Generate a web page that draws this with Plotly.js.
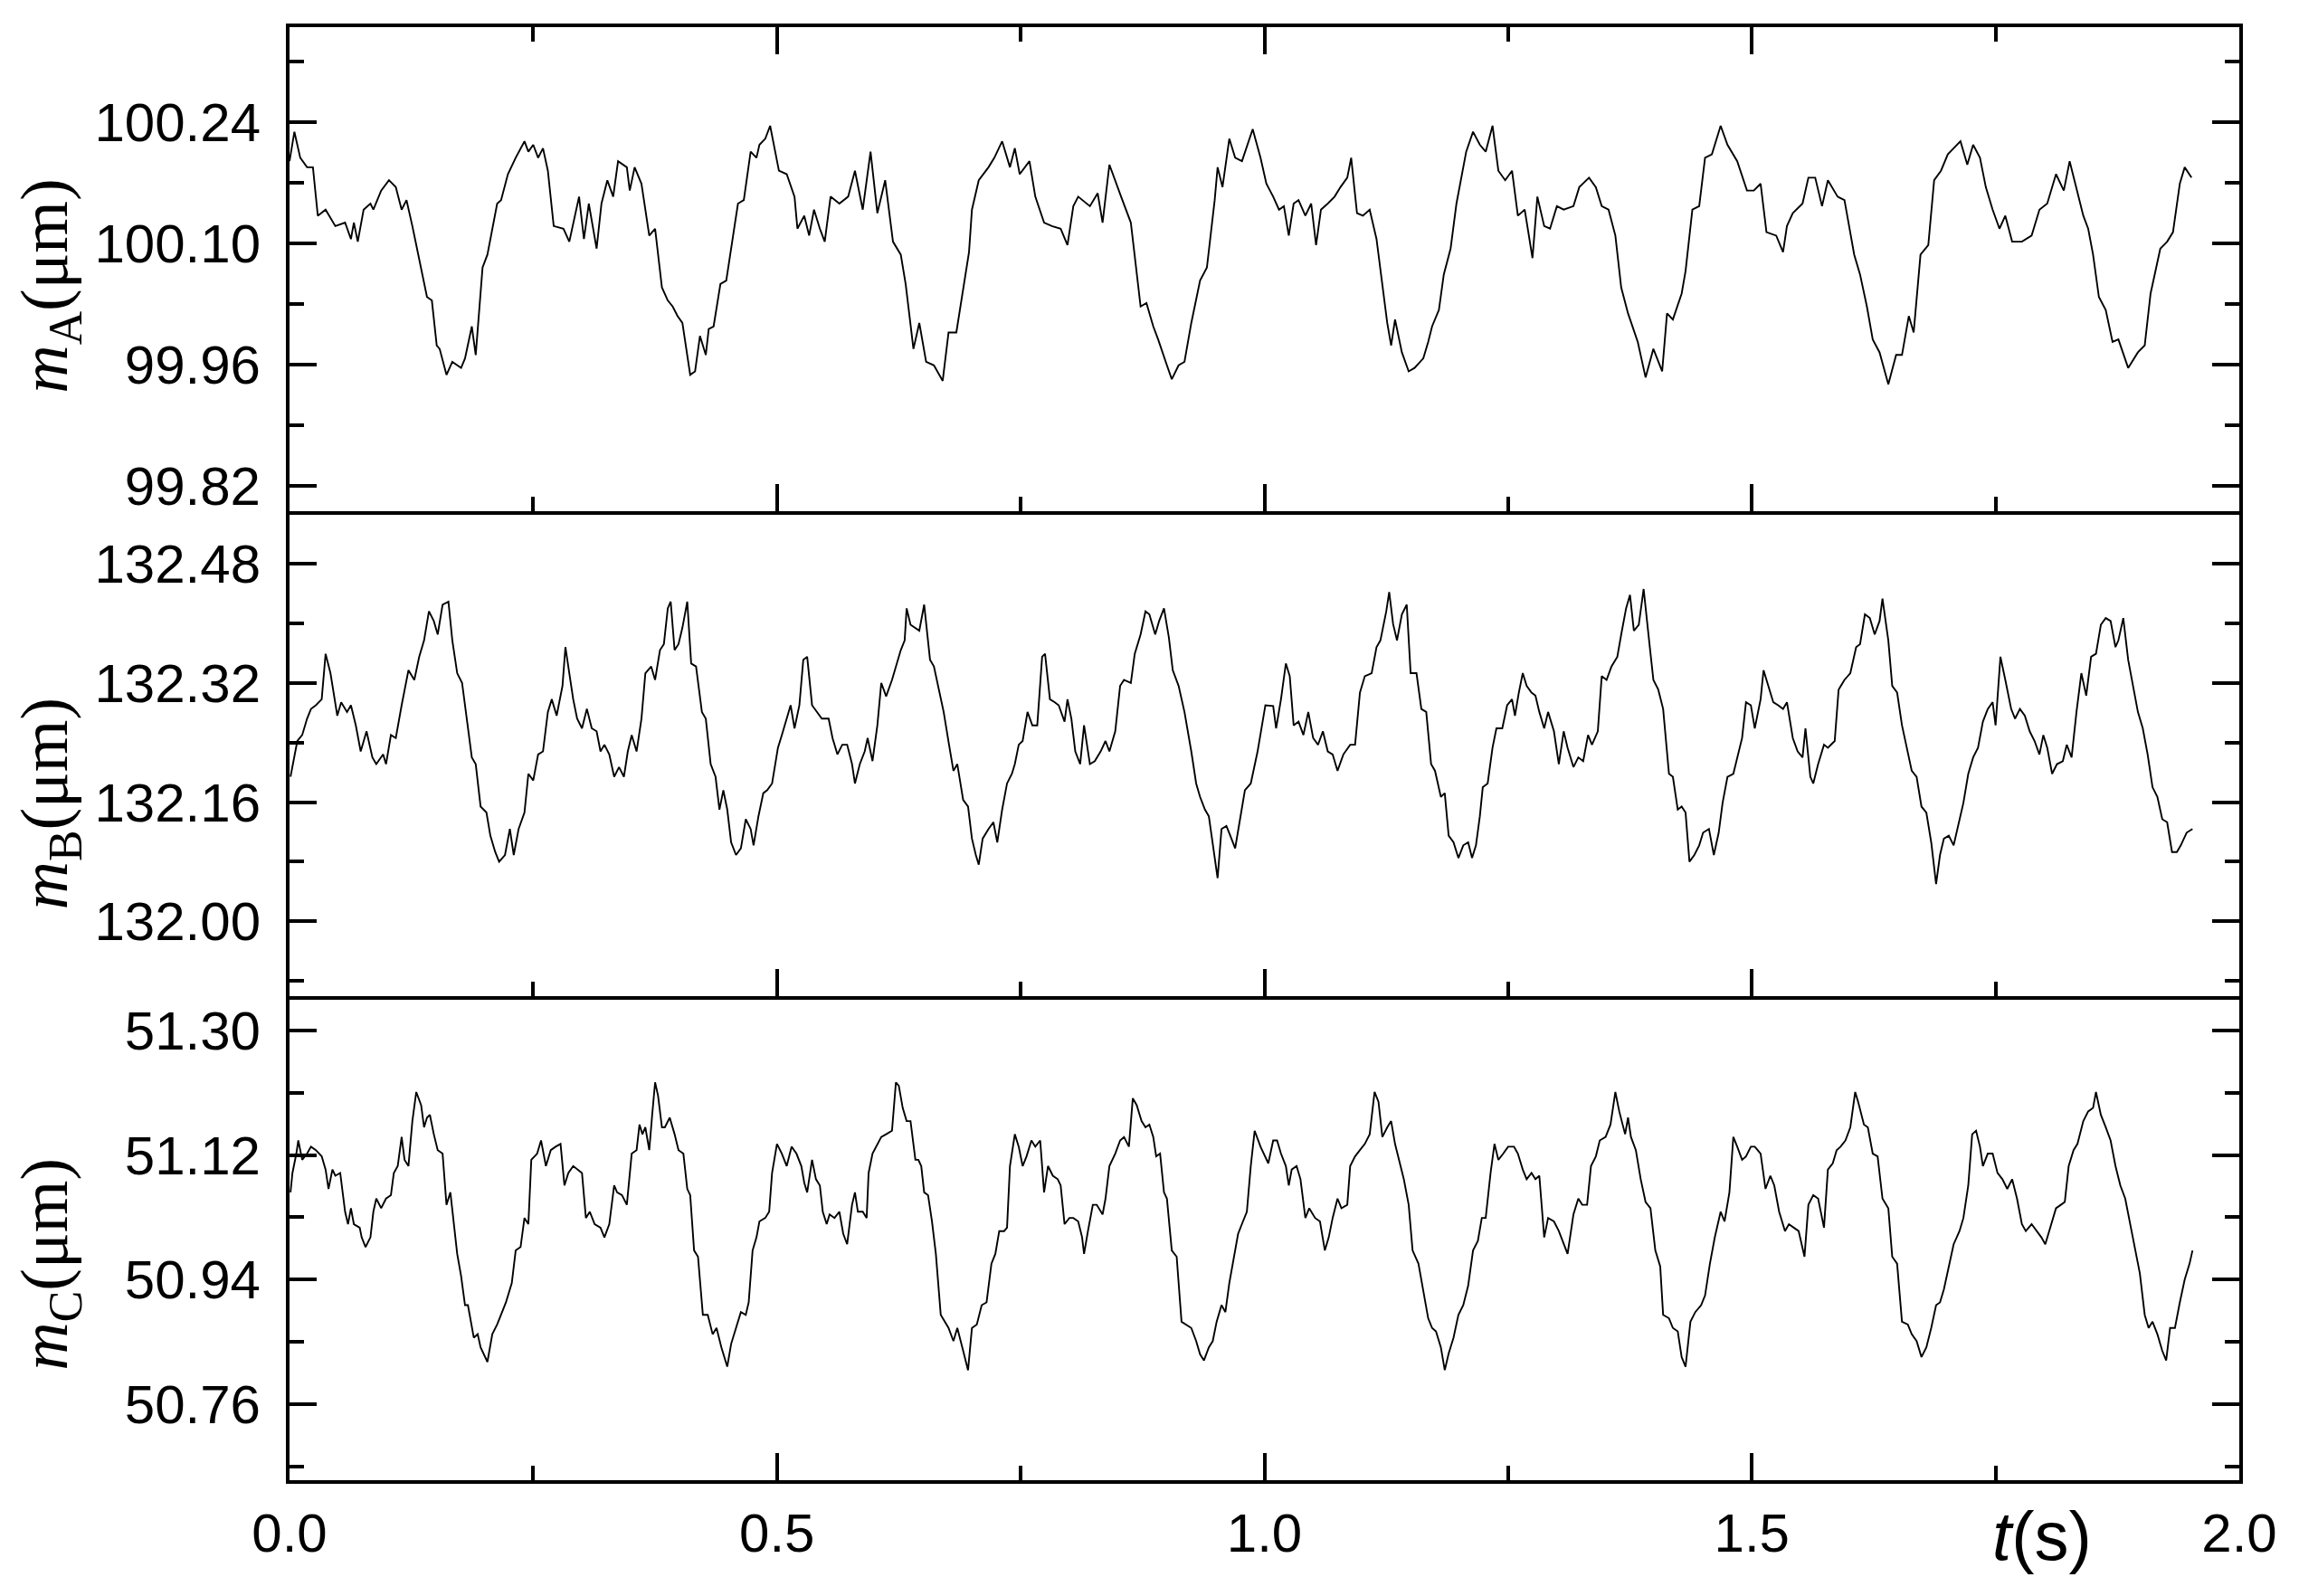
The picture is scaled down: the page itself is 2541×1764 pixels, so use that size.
<!DOCTYPE html>
<html>
<head>
<meta charset="utf-8">
<script src="https://cdn.plot.ly/plotly-3.0.1.min.js"></script>
<style>
  html, body { margin: 0; padding: 0; background: white; }
  #chart { width: 2541px; height: 1764px; }
</style>
</head>
<body>
<div id="chart"></div>
<script>
// values (time in s, m in um)
let tA = [
  0,0.005,0.011,0.018,0.024,0.029,0.037,0.047,0.057,0.063,
  0.066,0.070,0.076,0.083,0.086,0.094,0.102,0.109,0.115,0.120,
  0.126,0.135,0.141,0.146,0.151,0.154,0.161,0.167,0.176,0.180,
  0.187,0.191,0.198,0.203,0.213,0.217,0.224,0.232,0.241,0.245,
  0.250,0.255,0.260,0.265,0.271,0.281,0.287,0.297,0.302,0.307,
  0.315,0.320,0.326,0.332,0.337,0.346,0.349,0.354,0.361,0.369,
  0.375,0.382,0.388,0.393,0.398,0.403,0.411,0.416,0.421,0.427,
  0.430,0.435,0.442,0.448,0.460,0.466,0.473,0.479,0.482,0.488,
  0.493,0.502,0.510,0.518,0.521,0.528,0.533,0.538,0.544,0.549,
  0.555,0.564,0.573,0.580,0.588,0.596,0.603,0.611,0.619,0.627,
  0.632,0.640,0.646,0.653,0.661,0.670,0.676,0.684,0.692,0.697,
  0.700,0.707,0.717,0.723,0.731,0.739,0.744,0.749,0.759,0.765,
  0.774,0.782,0.791,0.798,0.804,0.809,0.821,0.829,0.834,0.841,
  0.853,0.863,0.873,0.879,0.886,0.891,0.900,0.905,0.912,0.918,
  0.925,0.934,0.941,0.949,0.952,0.957,0.964,0.970,0.977,0.988,
  0.996,1.002,1.009,1.015,1.020,1.025,1.030,1.035,1.042,1.048,
  1.053,1.058,1.065,1.072,1.078,1.085,1.089,1.095,1.101,1.108,
  1.115,1.121,1.126,1.130,1.134,1.141,1.148,1.154,1.163,1.168,
  1.172,1.179,1.184,1.191,1.197,1.207,1.214,1.221,1.227,1.234,
  1.240,1.247,1.254,1.260,1.267,1.275,1.280,1.287,1.293,1.300,
  1.307,1.317,1.323,1.333,1.340,1.346,1.353,1.360,1.366,1.373,
  1.383,1.391,1.399,1.408,1.413,1.419,1.428,1.432,1.439,1.446,
  1.452,1.459,1.468,1.475,1.485,1.495,1.502,1.509,1.515,1.525,
  1.532,1.536,1.542,1.552,1.558,1.565,1.572,1.578,1.588,1.595,
  1.605,1.611,1.618,1.624,1.631,1.640,1.648,1.654,1.661,1.666,
  1.673,1.681,1.687,1.694,1.701,1.707,1.714,1.721,1.727,1.734,
  1.740,1.747,1.754,1.760,1.767,1.777,1.787,1.795,1.803,1.812,
  1.820,1.826,1.833,1.840,1.845,1.850,1.856,1.863,1.870,1.876,
  1.886,1.896,1.903,1.909,1.919,1.926,1.932,1.939,1.944,1.951
];
let mA = [
  100.195,100.229,100.199,100.188,100.188,100.132,100.139,100.120,100.124,100.105,
  100.124,100.102,100.139,100.146,100.139,100.161,100.173,100.165,100.139,100.150,
  100.120,100.072,100.038,100.034,99.982,99.978,99.948,99.963,99.956,99.967,
  100.004,99.971,100.072,100.087,100.146,100.150,100.180,100.199,100.218,100.206,
  100.214,100.199,100.210,100.184,100.120,100.117,100.102,100.154,100.105,100.146,
  100.094,100.146,100.173,100.154,100.195,100.188,100.161,100.188,100.169,100.109,
  100.117,100.049,100.034,100.027,100.016,100.008,99.948,99.952,99.993,99.971,
  100.001,100.004,100.053,100.057,100.146,100.150,100.206,100.199,100.214,100.221,
  100.236,100.184,100.180,100.154,100.117,100.132,100.109,100.139,100.117,100.102,
  100.154,100.146,100.154,100.184,100.139,100.206,100.135,100.173,100.102,100.087,
  100.053,99.978,100.008,99.963,99.959,99.941,99.997,99.997,100.053,100.090,
  100.139,100.173,100.188,100.199,100.218,100.188,100.210,100.180,100.195,100.154,
  100.124,100.120,100.117,100.098,100.143,100.154,100.143,100.158,100.124,100.191,
  100.154,100.124,100.027,100.031,100.004,99.989,99.959,99.943,99.959,99.963,
  100.008,100.057,100.072,100.150,100.188,100.165,100.221,100.199,100.195,100.232,
  100.199,100.169,100.154,100.139,100.143,100.109,100.146,100.150,100.132,100.146,
  100.098,100.139,100.146,100.154,100.165,100.176,100.199,100.135,100.132,100.139,
  100.105,100.053,100.008,99.982,100.012,99.974,99.952,99.956,99.967,99.986,
  100.004,100.023,100.064,100.094,100.146,100.206,100.229,100.214,100.206,100.236,
  100.184,100.173,100.184,100.132,100.139,100.083,100.154,100.120,100.117,100.143,
  100.139,100.143,100.165,100.176,100.165,100.143,100.139,100.109,100.049,100.019,
  99.986,99.945,99.978,99.952,100.019,100.012,100.042,100.068,100.139,100.143,
  100.199,100.203,100.236,100.214,100.195,100.161,100.161,100.169,100.113,100.109,
  100.090,100.120,100.135,100.146,100.176,100.176,100.143,100.173,100.154,100.150,
  100.087,100.064,100.027,99.989,99.974,99.937,99.971,99.971,100.016,99.997,
  100.087,100.098,100.173,100.184,100.203,100.210,100.218,100.191,100.214,100.199,
  100.165,100.139,100.117,100.132,100.102,100.102,100.109,100.139,100.146,100.180,
  100.161,100.195,100.165,100.132,100.117,100.087,100.038,100.023,99.986,99.989,
  99.956,99.974,99.982,100.042,100.094,100.102,100.113,100.169,100.188,100.176
];

let tB = [
  0.001,0.005,0.008,0.013,0.018,0.022,0.027,0.033,0.037,0.042,
  0.046,0.049,0.053,0.059,0.063,0.068,0.073,0.079,0.085,0.089,
  0.096,0.099,0.104,0.109,0.115,0.122,0.128,0.133,0.138,0.143,
  0.148,0.152,0.157,0.163,0.167,0.172,0.177,0.182,0.187,0.191,
  0.196,0.202,0.206,0.211,0.215,0.221,0.226,0.230,0.235,0.241,
  0.245,0.250,0.255,0.260,0.265,0.269,0.274,0.280,0.283,0.287,
  0.291,0.295,0.300,0.305,0.310,0.315,0.319,0.323,0.328,0.333,
  0.338,0.343,0.347,0.351,0.356,0.361,0.365,0.371,0.375,0.380,
  0.384,0.388,0.391,0.395,0.399,0.403,0.408,0.412,0.417,0.423,
  0.427,0.432,0.437,0.441,0.445,0.449,0.453,0.458,0.463,0.468,
  0.473,0.476,0.481,0.486,0.490,0.495,0.501,0.505,0.510,0.514,
  0.518,0.523,0.527,0.531,0.536,0.541,0.546,0.553,0.557,0.562,
  0.567,0.572,0.577,0.580,0.585,0.590,0.593,0.598,0.603,0.607,
  0.612,0.618,0.622,0.627,0.631,0.633,0.637,0.642,0.646,0.651,
  0.657,0.661,0.666,0.671,0.676,0.681,0.685,0.691,0.696,0.700,
  0.704,0.707,0.711,0.717,0.722,0.726,0.731,0.736,0.741,0.744,
  0.748,0.752,0.757,0.762,0.767,0.772,0.775,0.780,0.785,0.789,
  0.795,0.798,0.802,0.806,0.811,0.815,0.821,0.826,0.832,0.837,
  0.841,0.847,0.852,0.856,0.863,0.867,0.873,0.878,0.882,0.888,
  0.892,0.897,0.902,0.906,0.912,0.918,0.925,0.930,0.934,0.939,
  0.943,0.947,0.952,0.956,0.961,0.965,0.970,0.975,0.980,0.986,
  0.993,1.001,1.009,1.012,1.017,1.022,1.026,1.030,1.035,1.040,
  1.045,1.050,1.055,1.060,1.065,1.070,1.075,1.081,1.088,1.093,
  1.098,1.103,1.110,1.115,1.119,1.125,1.128,1.132,1.136,1.141,
  1.146,1.150,1.156,1.161,1.166,1.171,1.175,1.181,1.185,1.189,
  1.194,1.199,1.204,1.209,1.213,1.217,1.221,1.224,1.229,1.234,
  1.238,1.244,1.249,1.254,1.257,1.261,1.265,1.269,1.274,1.278,
  1.282,1.287,1.291,1.297,1.302,1.307,1.311,1.317,1.322,1.327,
  1.332,1.336,1.342,1.346,1.351,1.356,1.362,1.366,1.371,1.375,
  1.379,1.384,1.389,1.395,1.399,1.404,1.409,1.415,1.419,1.424,
  1.428,1.432,1.436,1.441,1.446,1.450,1.456,1.461,1.466,1.470,
  1.475,1.481,1.485,1.490,1.494,1.499,1.503,1.509,1.512,1.517,
  1.522,1.527,1.532,1.536,1.542,1.547,1.552,1.555,1.560,1.563,
  1.568,1.574,1.578,1.585,1.589,1.595,1.601,1.607,1.611,1.616,
  1.621,1.626,1.631,1.634,1.640,1.644,1.649,1.654,1.660,1.664,
  1.669,1.674,1.679,1.684,1.689,1.693,1.697,1.702,1.707,1.713,
  1.717,1.722,1.727,1.732,1.737,1.742,1.747,1.750,1.755,1.760,
  1.766,1.770,1.775,1.780,1.785,1.790,1.795,1.799,1.803,1.808,
  1.813,1.819,1.823,1.828,1.833,1.838,1.843,1.848,1.853,1.858,
  1.863,1.868,1.873,1.876,1.881,1.886,1.891,1.896,1.901,1.906,
  1.911,1.916,1.921,1.926,1.931,1.936,1.940,1.946,1.952
];
let mB = [
  132.194,132.220,132.242,132.250,132.272,132.285,132.290,132.298,132.359,132.333,
  132.298,132.276,132.294,132.281,132.290,132.263,132.228,132.255,132.220,132.211,
  132.224,132.211,132.250,132.246,132.290,132.337,132.324,132.355,132.377,132.416,
  132.403,132.385,132.425,132.429,132.377,132.333,132.320,132.268,132.220,132.211,
  132.154,132.146,132.115,132.093,132.080,132.089,132.124,132.089,132.124,132.146,
  132.198,132.189,132.224,132.228,132.281,132.298,132.276,132.316,132.368,132.333,
  132.298,132.272,132.259,132.285,132.259,132.255,132.228,132.237,132.224,132.194,
  132.207,132.194,132.228,132.250,132.228,132.272,132.333,132.342,132.324,132.364,
  132.372,132.420,132.429,132.364,132.372,132.394,132.429,132.346,132.342,132.281,
  132.272,132.211,132.194,132.150,132.176,132.150,132.106,132.089,132.098,132.137,
  132.124,132.102,132.141,132.172,132.176,132.185,132.233,132.250,132.272,132.290,
  132.259,132.290,132.351,132.355,132.290,132.281,132.272,132.272,132.246,132.224,
  132.237,132.237,132.211,132.185,132.211,132.228,132.246,132.215,132.263,132.320,
  132.302,132.324,132.342,132.364,132.377,132.420,132.398,132.394,132.390,132.425,
  132.351,132.342,132.311,132.281,132.241,132.202,132.211,132.163,132.154,132.111,
  132.089,132.076,132.111,132.124,132.133,132.106,132.150,132.185,132.198,132.211,
  132.237,132.242,132.281,132.263,132.263,132.355,132.359,132.298,132.294,132.290,
  132.268,132.298,132.272,132.228,132.211,132.263,132.211,132.215,132.228,132.242,
  132.228,132.255,132.316,132.324,132.320,132.359,132.385,132.416,132.412,132.385,
  132.403,132.420,132.381,132.337,132.316,132.281,132.228,132.185,132.167,132.150,
  132.141,132.106,132.058,132.124,132.128,132.115,132.098,132.137,132.176,132.185,
  132.228,132.290,132.289,132.259,132.298,132.346,132.329,132.263,132.268,132.250,
  132.281,132.246,132.237,132.255,132.228,132.224,132.202,132.224,132.237,132.237,
  132.307,132.329,132.333,132.368,132.377,132.416,132.442,132.399,132.377,132.412,
  132.425,132.333,132.333,132.285,132.281,132.211,132.202,132.167,132.172,132.115,
  132.106,132.085,132.102,132.106,132.085,132.102,132.141,132.180,132.185,132.233,
  132.259,132.259,132.290,132.298,132.276,132.307,132.333,132.316,132.307,132.303,
  132.281,132.259,132.281,132.255,132.211,132.255,132.233,132.207,132.220,132.215,
  132.250,132.237,132.255,132.329,132.324,132.342,132.355,132.385,132.420,132.438,
  132.390,132.398,132.446,132.372,132.324,132.311,132.285,132.198,132.194,132.150,
  132.154,132.146,132.080,132.089,132.102,132.119,132.124,132.089,132.119,132.159,
  132.194,132.198,132.220,132.246,132.294,132.290,132.259,132.298,132.337,132.316,
  132.294,132.290,132.285,132.294,132.246,132.228,132.220,132.259,132.194,132.185,
  132.211,132.237,132.233,132.242,132.311,132.324,132.333,132.368,132.372,132.412,
  132.407,132.385,132.403,132.433,132.377,132.316,132.307,132.263,132.228,132.202,
  132.194,132.154,132.146,132.106,132.050,132.089,132.111,132.115,132.102,132.137,
  132.159,132.198,132.220,132.233,132.268,132.285,132.294,132.263,132.355,132.324,
  132.285,132.272,132.285,132.276,132.255,132.242,132.224,132.250,132.233,132.198,
  132.211,132.215,132.237,132.220,132.281,132.333,132.303,132.355,132.359,132.398,
  132.407,132.403,132.368,132.377,132.407,132.351,132.316,132.281,132.259,132.224,
  132.180,132.167,132.137,132.133,132.093,132.093,132.102,132.119,132.124
];

let tC = [
  0.001,0.003,0.007,0.009,0.013,0.018,0.022,0.027,0.033,0.037,
  0.040,0.044,0.047,0.052,0.057,0.060,0.063,0.066,0.072,0.074,
  0.078,0.083,0.086,0.089,0.094,0.099,0.104,0.107,0.111,0.115,
  0.118,0.122,0.126,0.130,0.135,0.138,0.141,0.144,0.148,0.152,
  0.157,0.161,0.165,0.169,0.172,0.176,0.180,0.183,0.189,0.193,
  0.196,0.203,0.208,0.213,0.217,0.222,0.228,0.232,0.237,0.241,
  0.245,0.248,0.254,0.258,0.263,0.268,0.273,0.278,0.282,0.286,
  0.291,0.295,0.300,0.304,0.308,0.313,0.319,0.323,0.328,0.333,
  0.336,0.341,0.346,0.351,0.356,0.359,0.362,0.365,0.369,0.372,
  0.375,0.378,0.382,0.385,0.390,0.395,0.399,0.404,0.408,0.411,
  0.415,0.419,0.424,0.429,0.434,0.438,0.443,0.449,0.453,0.458,
  0.463,0.468,0.471,0.475,0.479,0.482,0.488,0.492,0.495,0.500,
  0.505,0.510,0.515,0.520,0.525,0.528,0.531,0.536,0.540,0.544,
  0.547,0.551,0.554,0.559,0.564,0.568,0.572,0.577,0.580,0.583,
  0.588,0.592,0.594,0.598,0.603,0.607,0.612,0.618,0.622,0.625,
  0.629,0.633,0.637,0.642,0.645,0.648,0.651,0.655,0.659,0.663,
  0.668,0.672,0.676,0.681,0.685,0.691,0.696,0.700,0.705,0.710,
  0.715,0.720,0.724,0.728,0.733,0.736,0.739,0.744,0.748,0.752,
  0.756,0.761,0.765,0.770,0.774,0.778,0.783,0.788,0.791,0.795,
  0.800,0.804,0.809,0.813,0.815,0.819,0.824,0.828,0.834,0.837,
  0.841,0.847,0.852,0.856,0.861,0.865,0.869,0.874,0.878,0.882,
  0.886,0.889,0.893,0.897,0.900,0.905,0.910,0.915,0.919,0.925,
  0.930,0.934,0.938,0.943,0.947,0.951,0.956,0.960,0.964,0.969,
  0.973,0.978,0.982,0.986,0.990,0.996,1.004,1.009,1.013,1.017,
  1.022,1.025,1.028,1.033,1.037,1.042,1.046,1.052,1.057,1.062,
  1.066,1.070,1.075,1.079,1.085,1.088,1.093,1.098,1.103,1.108,
  1.113,1.117,1.121,1.126,1.130,1.134,1.138,1.143,1.148,1.152,
  1.158,1.163,1.168,1.172,1.176,1.181,1.185,1.189,1.194,1.199,
  1.204,1.209,1.214,1.219,1.223,1.227,1.232,1.236,1.240,1.245,
  1.250,1.256,1.260,1.265,1.269,1.274,1.278,1.282,1.287,1.291,
  1.297,1.302,1.307,1.311,1.317,1.322,1.326,1.331,1.335,1.340,
  1.344,1.350,1.355,1.360,1.364,1.370,1.373,1.376,1.381,1.386,
  1.391,1.396,1.401,1.406,1.409,1.415,1.419,1.424,1.428,1.432,
  1.437,1.442,1.448,1.452,1.457,1.462,1.468,1.472,1.477,1.481,
  1.485,1.490,1.494,1.499,1.503,1.509,1.514,1.519,1.523,1.528,
  1.534,1.538,1.543,1.548,1.554,1.558,1.563,1.568,1.574,1.578,
  1.583,1.587,1.591,1.596,1.601,1.606,1.609,1.615,1.619,1.624,
  1.629,1.634,1.640,1.644,1.649,1.654,1.660,1.664,1.669,1.674,
  1.679,1.684,1.689,1.693,1.697,1.702,1.707,1.713,1.717,1.722,
  1.726,1.730,1.734,1.737,1.742,1.747,1.752,1.757,1.762,1.767,
  1.772,1.777,1.781,1.787,1.792,1.797,1.801,1.807,1.812,1.817,
  1.821,1.825,1.830,1.834,1.840,1.845,1.850,1.853,1.858,1.863,
  1.868,1.873,1.878,1.883,1.887,1.893,1.898,1.903,1.907,1.911,
  1.916,1.921,1.925,1.929,1.934,1.939,1.944,1.949,1.952
];
let mC = [
  51.066,51.094,51.122,51.141,51.113,51.122,51.132,51.127,51.118,51.099,
  51.071,51.099,51.090,51.094,51.038,51.020,51.043,51.020,51.015,51.001,
  50.987,51.001,51.038,51.057,51.043,51.057,51.062,51.094,51.104,51.146,
  51.113,51.104,51.169,51.211,51.192,51.160,51.174,51.178,51.150,51.127,
  51.122,51.048,51.066,51.015,50.977,50.945,50.903,50.903,50.856,50.861,
  50.842,50.821,50.861,50.875,50.889,50.907,50.935,50.982,50.987,51.029,
  51.020,51.113,51.122,51.141,51.104,51.127,51.132,51.136,51.076,51.094,
  51.104,51.099,51.094,51.029,51.038,51.020,51.015,51.001,51.020,51.076,
  51.066,51.062,51.048,51.122,51.127,51.164,51.150,51.160,51.127,51.178,
  51.225,51.206,51.160,51.160,51.174,51.150,51.127,51.122,51.071,51.062,
  50.982,50.973,50.889,50.889,50.861,50.870,50.842,50.814,50.847,50.870,
  50.893,50.889,50.907,50.982,51.001,51.024,51.029,51.038,51.094,51.136,
  51.122,51.104,51.132,51.122,51.104,51.080,51.066,51.113,51.085,51.076,
  51.038,51.020,51.034,51.029,51.038,51.006,50.991,51.048,51.066,51.038,
  51.038,51.029,51.094,51.122,51.136,51.146,51.150,51.155,51.225,51.220,
  51.188,51.169,51.169,51.113,51.113,51.104,51.066,51.062,51.024,50.977,
  50.889,50.879,50.870,50.851,50.870,50.837,50.809,50.870,50.875,50.903,
  50.907,50.963,50.977,51.010,51.010,51.015,51.104,51.150,51.132,51.104,
  51.118,51.141,51.132,51.141,51.066,51.104,51.090,51.085,51.076,51.020,
  51.029,51.029,51.024,51.001,50.977,51.010,51.048,51.048,51.034,51.057,
  51.104,51.122,51.141,51.146,51.132,51.202,51.192,51.169,51.160,51.164,
  51.146,51.118,51.122,51.066,51.057,50.982,50.973,50.879,50.875,50.870,
  50.851,50.832,50.823,50.842,50.851,50.879,50.903,50.893,50.935,50.973,
  51.006,51.024,51.038,51.104,51.155,51.132,51.108,51.141,51.141,51.122,
  51.104,51.076,51.099,51.104,51.085,51.029,51.043,51.029,51.024,50.982,
  51.001,51.029,51.057,51.043,51.048,51.104,51.118,51.127,51.136,51.150,
  51.211,51.197,51.146,51.160,51.169,51.136,51.113,51.085,51.048,50.982,
  50.963,50.926,50.884,50.870,50.865,50.842,50.809,50.833,50.856,50.889,
  50.903,50.931,50.982,50.996,51.029,51.029,51.094,51.136,51.113,51.122,
  51.132,51.132,51.122,51.099,51.085,51.094,51.085,51.090,51.001,51.029,
  51.024,51.010,50.991,50.977,51.034,51.057,51.048,51.048,51.104,51.118,
  51.141,51.146,51.164,51.211,51.183,51.150,51.174,51.146,51.127,51.085,
  51.052,51.043,50.982,50.959,50.889,50.884,50.870,50.865,50.828,50.814,
  50.879,50.893,50.903,50.917,50.963,51.001,51.038,51.024,51.066,51.146,
  51.132,51.113,51.118,51.132,51.132,51.122,51.071,51.090,51.076,51.038,
  51.010,51.020,51.015,51.010,50.973,51.048,51.062,51.057,51.015,51.099,
  51.108,51.127,51.132,51.141,51.160,51.211,51.197,51.164,51.160,51.122,
  51.118,51.057,51.043,50.973,50.963,50.879,50.875,50.861,50.851,50.828,
  50.842,50.870,50.903,50.907,50.926,50.959,50.991,51.010,51.029,51.076,
  51.150,51.155,51.132,51.104,51.122,51.122,51.094,51.085,51.071,51.085,
  51.057,51.020,51.010,51.020,51.010,51.001,50.991,51.020,51.043,51.048,
  51.052,51.104,51.127,51.136,51.169,51.183,51.188,51.211,51.178,51.160,
  51.141,51.104,51.076,51.057,51.029,50.982,50.949,50.889,50.870,50.879,
  50.861,50.837,50.823,50.870,50.870,50.907,50.940,50.963,50.982
];

// tick labels
let xTicks = [0, 0.5, 1.0, 1.5, 2.0];
let xLabels = ['0.0', '0.5', '1.0', '1.5', '2.0'];
let yTicksA = [99.82, 99.96, 100.10, 100.24];
let yLabelsA = ['99.82', '99.96', '100.10', '100.24'];
let yTicksB = [132.00, 132.16, 132.32, 132.48];
let yLabelsB = ['132.00', '132.16', '132.32', '132.48'];
let yTicksC = [50.76, 50.94, 51.12, 51.30];
let yLabelsC = ['50.76', '50.94', '51.12', '51.30'];

function line(x, y, xa, ya) {
  return {x: x, y: y, xaxis: xa, yaxis: ya, type: 'scatter', mode: 'lines',
          line: {color: 'black', width: 1.9}, hoverinfo: 'skip'};
}

let traces = [
  line(tA, mA, 'x', 'y'),
  line(tB, mB, 'x2', 'y2'),
  line(tC, mC, 'x3', 'y3')
];

// only the top panel carries a top frame with ticks; lower panels share the border above
function xAxis(anchor, mirror, labels) {
  return {
    anchor: anchor, domain: [0, 1], range: [0, 2],
    tickmode: 'array', tickvals: xTicks, ticktext: xLabels,
    showticklabels: labels, ticklabelstandoff: 3,
    ticks: 'inside', ticklen: 30, tickwidth: 4, tickcolor: 'black',
    minor: {tickmode: 'linear', tick0: 0, dtick: 0.25, ticks: 'inside',
            ticklen: 16, tickwidth: 4, tickcolor: 'black'},
    showline: true, linewidth: 4, linecolor: 'black', mirror: mirror,
    showgrid: false, zeroline: false
  };
}

function yAxis(anchor, domain, range, vals, text, step) {
  return {
    anchor: anchor, domain: domain, range: range,
    tickmode: 'array', tickvals: vals, ticktext: text, ticklabelstandoff: 16,
    ticks: 'inside', ticklen: 30, tickwidth: 4, tickcolor: 'black',
    minor: {tickmode: 'linear', tick0: vals[0], dtick: step, ticks: 'inside',
            ticklen: 16, tickwidth: 4, tickcolor: 'black'},
    showline: true, linewidth: 4, linecolor: 'black', mirror: 'ticks',
    showgrid: false, zeroline: false
  };
}

let titleFont = {family: 'Liberation Serif, Times New Roman, serif', size: 74, color: 'black'};

let layout = {
  width: 2541, height: 1764,
  paper_bgcolor: 'white', plot_bgcolor: 'white',
  margin: {l: 320, r: 66, t: 30, b: 128},
  showlegend: false,
  font: {family: 'Liberation Sans, Arial, sans-serif', size: 60, color: 'black'},
  xaxis: xAxis('y', 'ticks', false),
  xaxis2: xAxis('y2', false, false),
  xaxis3: xAxis('y3', false, true),
  yaxis: yAxis('x', [2/3, 1], [99.79, 100.35], yTicksA, yLabelsA, 0.07),
  yaxis2: yAxis('x2', [1/3, 2/3], [131.9, 132.55], yTicksB, yLabelsB, 0.08),
  yaxis3: yAxis('x3', [0, 1/3], [50.65, 51.35], yTicksC, yLabelsC, 0.09),
  annotations: [
    {text: '<i>m</i><sub>A</sub>(μm)', xref: 'paper', yref: 'paper', x: -0.123, y: 0.822,
     textangle: -90, showarrow: false, xanchor: 'center', yanchor: 'middle', font: titleFont},
    {text: '<i>m</i><sub>B</sub>(μm)', xref: 'paper', yref: 'paper', x: -0.123, y: 0.466,
     textangle: -90, showarrow: false, xanchor: 'center', yanchor: 'middle', font: titleFont},
    {text: '<i>m</i><sub>C</sub>(μm)', xref: 'paper', yref: 'paper', x: -0.123, y: 0.149,
     textangle: -90, showarrow: false, xanchor: 'center', yanchor: 'middle', font: titleFont},
    {text: '<i>t</i>(s)', xref: 'paper', yref: 'paper', x: 0.899, y: -0.038,
     showarrow: false, xanchor: 'center', yanchor: 'middle',
     font: {family: 'Liberation Sans, Arial, sans-serif', size: 76, color: 'black'}}
  ]
};

Plotly.newPlot('chart', traces, layout, {displayModeBar: false, staticPlot: true});
</script>
</body>
</html>
